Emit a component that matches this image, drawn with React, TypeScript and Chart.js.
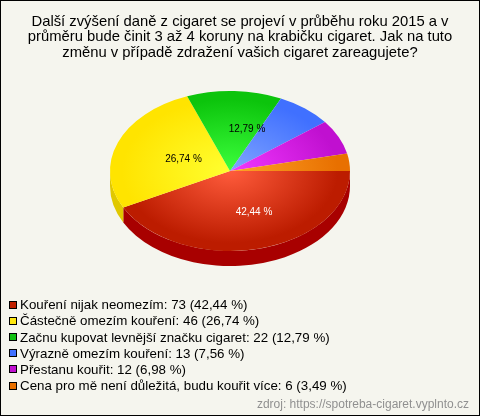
import React, { useEffect, useRef } from "react";
import { Chart, registerables } from "chart.js";

Chart.register(...registerables);

const categories = [
  "Kouření nijak neomezím",
  "Částečně omezím kouření",
  "Začnu kupovat levnější značku cigaret",
  "Výrazně omezím kouření",
  "Přestanu kouřit",
  "Cena pro mě není důležitá, budu kouřit více",
];
const counts = [73, 46, 22, 13, 12, 6];
const percentLabels = ["42,44", "26,74", "12,79", "7,56", "6,98", "3,49"];
const innerColors = ["#ff5c3c", "#ffff30", "#3cff3c", "#80a4ff", "#f238ff", "#ffa428"];
const outerColors = ["#bc1c00", "#ffe400", "#0cc40c", "#4070ff", "#c010d0", "#e87000"];
const sideColors = ["#a80000", "#e0c800", "#0a9a0a", "#3058c8", "#9a0ca8", "#b85800"];
const legendColors = ["#c02000", "#ffe810", "#10c010", "#4070ff", "#c010d0", "#e87000"];
const titleLines = [
  "Další zvýšení daně z cigaret se projeví v průběhu roku 2015 a v",
  "průměru bude činit 3 až 4 koruny na krabičku cigaret. Jak na tuto",
  "změnu v případě zdražení vašich cigaret zareagujete?",
];
const sourceText = "zdroj: https://spotreba-cigaret.vyplnto.cz";

const BG = "#f5f5ee";
const SQUISH = 2 / 3;
const CX = 230;
const CY = 171;
const RADIUS = 120;
const DEPTH = 15;
const SANS = "Arial, 'Liberation Sans', sans-serif";

const sliceLabels: Record<number, { x: number; y: number; color: string }> = {
  0: { x: 254, y: 212, color: "#ffffff" },
  1: { x: 183.5, y: 159, color: "#000000" },
  2: { x: 247, y: 129, color: "#000000" },
};

const pie3d = {
  id: "pie3d",
  beforeDatasetsDraw(chart: any) {
    const { ctx } = chart;
    const meta = chart.getDatasetMeta(0);
    const el0 = meta.data[0];
    ctx.save();
    meta.data.forEach((arc: any, i: number) => {
      const s = Math.max(arc.startAngle, 0);
      const e = Math.min(arc.endAngle, Math.PI);
      if (e <= s) return;
      ctx.beginPath();
      ctx.ellipse(CX, CY, RADIUS, RADIUS * SQUISH, 0, s, e, false);
      ctx.ellipse(CX, CY + DEPTH, RADIUS, RADIUS * SQUISH, 0, e, s, true);
      ctx.closePath();
      ctx.fillStyle = sideColors[i];
      ctx.fill();
    });
    ctx.translate(CX, CY);
    ctx.scale(1, SQUISH);
    ctx.translate(-el0.x, -el0.y);
  },
  afterDatasetsDraw(chart: any) {
    const { ctx, width, height } = chart;
    ctx.restore();
    ctx.save();
    ctx.textBaseline = "middle";
    ctx.textAlign = "center";
    ctx.font = `10px ${SANS}`;
    Object.entries(sliceLabels).forEach(([k, p]) => {
      ctx.fillStyle = p.color;
      ctx.fillText(`${percentLabels[+k]} %`, p.x, p.y);
    });

    ctx.textAlign = "left";
    ctx.font = `13.33px ${SANS}`;
    categories.forEach((c, i) => {
      const y = 305.5 + i * 16.2;
      const top = Math.round(y) - 4.5;
      ctx.fillStyle = legendColors[i];
      ctx.fillRect(9.5, top, 7, 7);
      ctx.strokeStyle = "#000000";
      ctx.lineWidth = 1;
      ctx.strokeRect(9.5, top, 7, 7);
      ctx.fillStyle = "#000000";
      ctx.fillText(`${c}: ${counts[i]} (${percentLabels[i]} %)`, 20, y);
    });

    ctx.textAlign = "right";
    ctx.font = `12px ${SANS}`;
    ctx.fillStyle = "#909090";
    ctx.fillText(sourceText, 469, 405);

    ctx.strokeStyle = "#000000";
    ctx.lineWidth = 1;
    ctx.strokeRect(0.5, 0.5, width - 1, height - 1);
    ctx.restore();
  },
};

export default function App() {
  const ref = useRef<HTMLCanvasElement>(null);
  useEffect(() => {
    document.body.style.margin = "0";
    const chart = new Chart(ref.current!, {
      type: "pie",
      data: {
        labels: categories,
        datasets: [
          {
            data: counts,
            borderWidth: 0,
            radius: RADIUS,
            backgroundColor: (c: any) => {
              const area = c.chart.chartArea;
              if (!area) return outerColors[c.dataIndex];
              const x = (area.left + area.right) / 2;
              const y = (area.top + area.bottom) / 2;
              const g = c.chart.ctx.createRadialGradient(x, y, 0, x, y, RADIUS);
              g.addColorStop(0, innerColors[c.dataIndex]);
              g.addColorStop(0.9, outerColors[c.dataIndex]);
              g.addColorStop(1, outerColors[c.dataIndex]);
              return g;
            },
          } as any,
        ],
      },
      options: {
        responsive: false,
        animation: false,
        rotation: 90,
        layout: { padding: { bottom: 125 } },
        plugins: {
          legend: { display: false },
          tooltip: { enabled: false },
          title: {
            display: true,
            text: titleLines,
            color: "#000000",
            font: { family: SANS, size: 14.8, weight: "normal", lineHeight: 1.05 },
            padding: { top: 14, bottom: 0 },
          },
        },
      },
      plugins: [
        pie3d,
        {
          id: "bg",
          beforeDraw(c: any) {
            c.ctx.save();
            c.ctx.fillStyle = BG;
            c.ctx.fillRect(0, 0, c.width, c.height);
            c.ctx.restore();
          },
        },
      ],
    });
    return () => chart.destroy();
  }, []);
  return <canvas ref={ref} width={480} height={416} style={{ display: "block" }} />;
}
